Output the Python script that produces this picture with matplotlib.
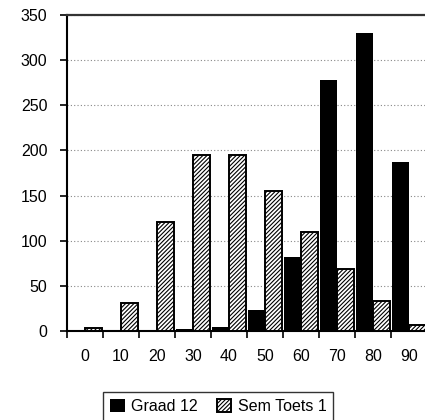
import matplotlib
matplotlib.use("Agg")
import matplotlib.pyplot as plt
import numpy as np

categories = ["0", "10", "20", "30", "40", "50", "60", "70", "80", "90"]
graad12 = [0, 0, 0, 2, 4, 23, 82, 278, 330, 187]
sem_toets1 = [3, 31, 121, 195, 195, 155, 110, 69, 33, 7]
yticks = [0, 50, 100, 150, 200, 250, 300, 350]

plt.rcParams['font.family'] = ['Liberation Sans', 'DejaVu Sans']
plt.rcParams['hatch.linewidth'] = 0.8

fig = plt.figure(figsize=(4.25, 4.2), dpi=100)
ax = fig.add_axes([67/425, 89/420, 360/425, 316/420])

x = np.arange(len(categories))
w = 0.47
ax.bar(x - w/2, graad12, width=w, color='black', edgecolor='black', linewidth=0,
       label='Graad 12', zorder=3)
ax.bar(x + w/2, sem_toets1, width=w, color='white', edgecolor='black', hatch='////////',
       linewidth=1.4, label='Sem Toets 1', zorder=3)

ax.set_xlim(-0.5, 9.5)
ax.set_ylim(0, 350)
ax.set_yticks(yticks)
ax.set_yticklabels([str(v) for v in yticks], fontsize=11.5)
ax.set_xticks(x)
ax.set_xticklabels(categories, fontsize=11.5)
ax.set_xticks(np.arange(-0.5, 10, 1.0), minor=True)
ax.tick_params(axis='x', which='major', length=0, pad=13)
ax.tick_params(axis='x', which='minor', length=5, width=1.2, direction='out')
ax.tick_params(axis='y', length=5, width=1.2, direction='out', pad=9)

ax.yaxis.grid(True, color='#888888', linestyle=(0, (1, 2)), linewidth=0.8, zorder=0)
ax.set_axisbelow(True)

for s in ['left', 'bottom']:
    ax.spines[s].set_linewidth(1.5)
    ax.spines[s].set_color('black')
ax.spines['top'].set_linewidth(1.6)
ax.spines['top'].set_color('#333333')
ax.spines['right'].set_linewidth(1.6)

leg = fig.legend(loc='upper left', bbox_to_anchor=(103/425, 1 - 392/420), ncol=2,
                 fontsize=11.5, frameon=True, fancybox=False, edgecolor='black',
                 handlelength=0.9, handleheight=0.9, handletextpad=0.4,
                 columnspacing=1.2, borderpad=0.45, borderaxespad=0)
leg.get_frame().set_linewidth(1.0)

fig.savefig('out.png', dpi=100)
